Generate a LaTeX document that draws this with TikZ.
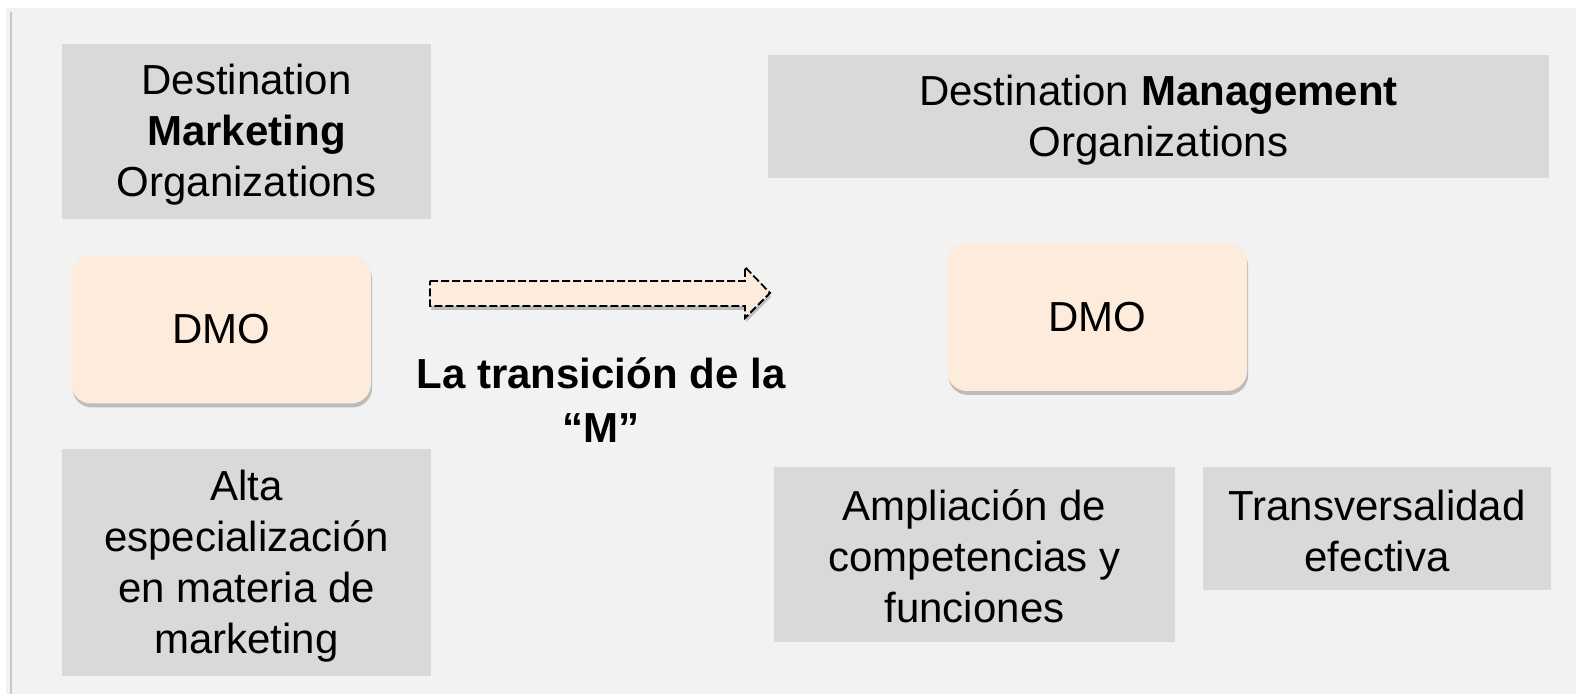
\documentclass[tikz,border=0pt]{standalone}
\usepackage{fontspec}
\setmainfont{Liberation Sans}
\usetikzlibrary{shadows}
\definecolor{panel}{HTML}{F2F2F2}
\definecolor{boxgray}{HTML}{D9D9D9}
\definecolor{peach}{HTML}{FDECDB}
\definecolor{edgegray}{HTML}{C8C8C8}
\tikzset{
  graybox/.style={rectangle, fill=boxgray, inner sep=0pt},
  boxtext/.style={align=center, inner sep=0pt,
    font=\fontsize{21pt}{25.5pt}\selectfont},
  dmobox/.style={rectangle, rounded corners=10pt, fill=peach, inner sep=0pt,
    minimum width=150pt, minimum height=74pt,
    font=\fontsize{21pt}{25.5pt}\selectfont,
    drop shadow={shadow xshift=0.6pt, shadow yshift=-2pt, opacity=0.22, fill=black}},
  labeltext/.style={align=center, inner sep=0pt,
    font=\fontsize{21pt}{27pt}\selectfont\bfseries},
  arrowshape/.style={fill=peach, draw=black, line width=0.9pt,
    dash pattern=on 4pt off 1.5pt, line join=miter,
    drop shadow={shadow xshift=0.6pt, shadow yshift=-2pt, opacity=0.22, fill=black}}
}
\begin{document}
\begin{tikzpicture}[x=0.5pt, y=-0.5pt]
\useasboundingbox (0,0) rectangle (1576,694);
\fill[white] (0,0) rectangle (1576,694);
\fill[panel] (6,8) rectangle (1576,694);
\draw[edgegray, line width=1pt] (11,12) -- (11,694);

\node[graybox, minimum width=184.5pt, minimum height=87.5pt] (mkt) at (246.5,131.5) {};
\node[boxtext] (mktT) at ([yshift=-1.75pt]mkt.center)
  {Destination\\\textbf{Marketing}\\Organizations};
\node[dmobox] (dmoL) at (221,329.5) {DMO};
\node[graybox, minimum width=184.5pt, minimum height=113.5pt] (alta) at (246.5,562.5) {};
\node[boxtext] (altaT) at ([yshift=-2pt]alta.center)
  {Alta\\especialización\\en materia de\\marketing};

\node[graybox, minimum width=390.5pt, minimum height=61.5pt] (mgmt) at (1158.5,116.5) {};
\node[boxtext] (mgmtT) at ([yshift=-2pt]mgmt.center)
  {Destination \textbf{Management}\\Organizations};
\node[dmobox] (dmoR) at (1097,317) {DMO};
\node[graybox, minimum width=200.5pt, minimum height=87.5pt] (ampl) at (974.5,554.5) {};
\node[boxtext] (amplT) at ([yshift=-1pt]ampl.center)
  {Ampliación de\\competencias y\\funciones};
\node[graybox, minimum width=174pt, minimum height=61.5pt] (trans) at (1377,528.5) {};
\node[boxtext] (transT) at ([yshift=-1pt]trans.center)
  {Transversalidad\\efectiva};

\draw[arrowshape] (430,281) -- (745,281) -- (745,267) -- (770,293)
  -- (745,318) -- (745,306) -- (430,306) -- cycle;

\node[labeltext] (lbl) at (601,400) {La transición de la\\“M”};
\end{tikzpicture}
\end{document}
